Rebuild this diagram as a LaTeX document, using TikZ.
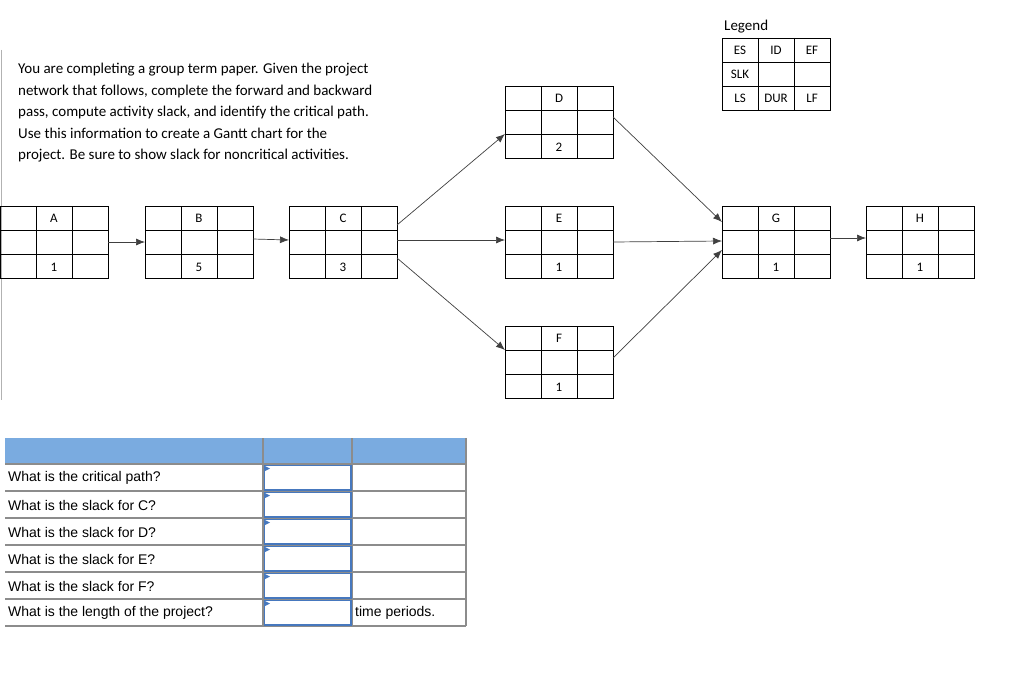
\documentclass[tikz,border=0pt]{standalone}
\usepackage{fontspec}
\usetikzlibrary{arrows.meta}
\setmainfont{Carlito}
\newfontfamily\arialf{Liberation Sans}
\definecolor{hdrblue}{RGB}{122,171,224}
\definecolor{ansblue}{RGB}{70,120,190}
\begin{document}
\begin{tikzpicture}[x=1pt,y=-1pt,
  cellline/.style={draw=black,line width=0.9pt},
  conn/.style={draw=black!75,line width=0.7pt},
  arr/.style={conn,-{Latex[length=9pt,width=7pt]}},
  lbl/.style={font=\fontsize{13}{14}\selectfont,inner sep=0pt},
  qtxt/.style={font=\arialf\fontsize{14}{15}\selectfont,anchor=west,inner sep=0pt},
  grid/.style={draw=black!45,line width=1.2pt},
  ans/.style={draw=ansblue,line width=1.2pt},
]
\useasboundingbox (0,0) rectangle (1024,685);
\fill[white] (0,0) rectangle (1024,685);
\draw[black!30,line width=0.8pt] (1,50) -- (1,400);
% activity boxes
\newcommand{\actbox}[5]{% name, x, y, id, dur
  \draw[cellline] (#2,#3) rectangle ++(108,72);
  \draw[cellline] (#2+36,#3) -- ++(0,72) (#2+72,#3) -- ++(0,72)
    (#2,#3+24) -- ++(108,0) (#2,#3+48) -- ++(108,0);
  \coordinate (#1) at (#2,#3);
  \node[lbl] (#1id) at (#2+54,#3+12) {#4};
  \node[lbl] (#1dur) at (#2+54,#3+61) {#5};
}
\actbox{A}{0}{206}{A}{1}
\actbox{B}{145}{206}{B}{5}
\actbox{C}{289}{206}{C}{3}
\actbox{D}{505}{86}{D}{2}
\actbox{E}{505}{206}{E}{1}
\actbox{F}{505}{326}{F}{1}
\actbox{G}{722}{206}{G}{1}
\actbox{H}{866}{206}{H}{1}
% connectors
\draw[arr] ([shift={(108,36)}]A) -- ([shift={(0,36)}]B);
\draw[arr] ([shift={(108,33)}]B) -- ([shift={(0,34)}]C);
\draw[arr] ([shift={(108,19)}]C) -- ([shift={(0,48)}]D);
\draw[arr] ([shift={(108,34)}]C) -- ([shift={(0,34)}]E);
\draw[arr] ([shift={(108,52)}]C) -- ([shift={(0,24)}]F);
\draw[arr] ([shift={(108,31)}]D) -- ([shift={(0,16)}]G);
\draw[arr] ([shift={(108,36)}]E) -- ([shift={(0,35)}]G);
\draw[arr] ([shift={(108,32)}]F) -- ([shift={(0,44)}]G);
\draw[arr] ([shift={(108,32)}]G) -- ([shift={(0,32)}]H);
% legend
\node[font=\fontsize{15}{16}\selectfont,anchor=west,inner sep=0pt] (legend) at (724,27) {Legend};
\draw[cellline] (722,38) rectangle (830,110);
\draw[cellline] (758,38) -- (758,110) (794,38) -- (794,110) (722,62) -- (830,62) (722,86) -- (830,86);
\node[lbl] (les) at (740,50) {ES};
\node[lbl] (lid) at (776,50) {ID};
\node[lbl] (lef) at (812,50) {EF};
\node[lbl] (lslk) at (740,74) {SLK};
\node[lbl] (lls) at (740,98) {LS};
\node[lbl] (ldur) at (776,98) {DUR};
\node[lbl] (llf) at (812,98) {LF};
% paragraph
\node[font=\fontsize{15}{21.5}\selectfont,anchor=north west,inner sep=0pt,align=left] (para) at (18,63)
{You are completing a group term paper. Given the project\\
network that follows, complete the forward and backward\\
pass, compute activity slack, and identify the critical path.\\
Use this information to create a Gantt chart for the\\
project. Be sure to show slack for noncritical activities.};
% table
\fill[hdrblue] (5,438) rectangle (466,464);
\foreach \y in {464,491,518,545,572,599,626} \draw[grid] (5,\y) -- (466,\y);
\draw[grid] (263,438) -- (263,626) (352,438) -- (352,626) (466,438) -- (466,626);
\foreach \y in {464,491,518,545,572,599} {
  \draw[ans] (264.5,\y+1.5) rectangle (351,\y+26);
  \fill[ansblue] (265,\y+2) -- (270,\y+4.5) -- (265,\y+7) -- cycle;
}
\node[qtxt] (q1) at (8,478) {What is the critical path?};
\node[qtxt] (q2) at (8,505) {What is the slack for C?};
\node[qtxt] (q3) at (8,532) {What is the slack for D?};
\node[qtxt] (q4) at (8,559) {What is the slack for E?};
\node[qtxt] (q5) at (8,586) {What is the slack for F?};
\node[qtxt] (q6) at (8,613) {What is the length of the project?};
\node[qtxt] (tp) at (355,613) {time periods.};
\end{tikzpicture}
\end{document}
